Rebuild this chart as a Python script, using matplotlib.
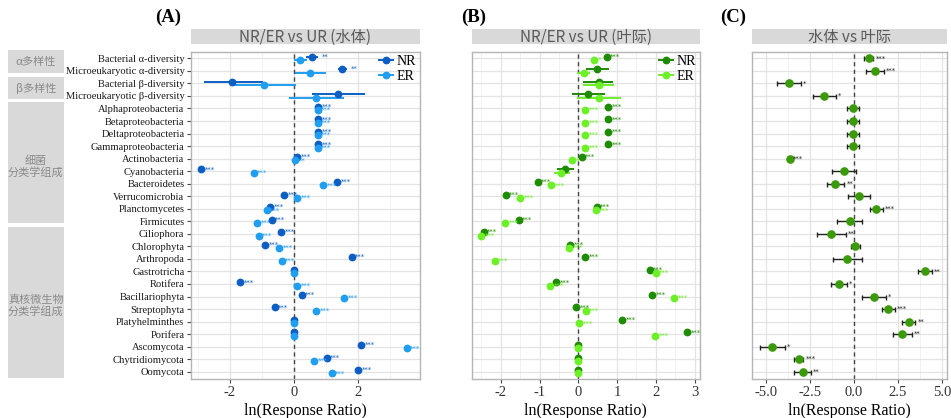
import numpy as np
import matplotlib.pyplot as plt
from matplotlib.patches import Rectangle
from matplotlib.lines import Line2D
from matplotlib.ticker import MultipleLocator

plt.rcParams['font.family'] = ['Liberation Serif', 'Noto Sans CJK SC', 'DejaVu Sans']
plt.rcParams['axes.unicode_minus'] = False

# ---- data ----
taxa = ["Bacterial α-diversity", "Microeukaryotic α-diversity", "Bacterial β-diversity",
        "Microeukaryotic β-diversity", "Alphaproteobacteria", "Betaproteobacteria",
        "Deltaproteobacteria", "Gammaproteobacteria", "Actinobacteria", "Cyanobacteria",
        "Bacteroidetes", "Verrucomicrobia", "Planctomycetes", "Firmicutes", "Ciliophora",
        "Chlorophyta", "Arthropoda", "Gastrotricha", "Rotifera", "Bacillariophyta",
        "Streptophyta", "Platyhelminthes", "Porifera", "Ascomycota", "Chytridiomycota",
        "Oomycota"]
group_labels = ["α多样性", "β多样性", "细菌\n分类学组成", "真核微生物\n分类学组成"]

nan = np.nan
# (A) NR/ER vs UR (water)
a_nr = [0.57, 1.52, -1.92, 1.39, 0.77, 0.77, 0.77, 0.77, 0.11, -2.89, 1.36, -0.30, -0.73,
        -0.69, -0.39, -0.89, 1.81, 0.0, -1.68, 0.25, -0.60, 0.0, 0.0, 2.10, 1.03, 2.01]
a_nr_lo = [0.37, 1.37, -2.80, 0.56] + [nan] * 22
a_nr_hi = [0.76, 1.67, -0.95, 2.23] + [nan] * 22
a_nr_sig = ["**", "**", "", ""] + ["***"] * 13 + [""] + ["***"] * 3 + ["", ""] + ["***"] * 3
a_er = [0.20, 0.52, -0.94, 0.70, 0.75, 0.75, 0.75, 0.75, 0.04, -1.25, 0.92, 0.10, -0.85,
        -1.14, -1.10, -0.45, -0.38, 0.0, 0.11, 1.57, 0.69, 0.0, 0.0, 3.53, 0.63, 1.18]
a_er_lo = [0.0, 0.03, -1.93, -0.16] + [nan] * 22
a_er_hi = [0.40, 1.00, 0.07, 1.58] + [nan] * 22
a_er_sig = ["", "", "", ""] + ["***"] * 4 + ["**"] + ["***"] * 8 + [""] + ["***"] * 3 + ["", ""] + ["***"] * 3

# (B) NR/ER vs UR (phyllosphere)
b_nr = [0.73, 0.48, 0.53, 0.26, 0.77, 0.77, 0.77, 0.77, 0.09, -0.34, -1.05, -1.87, 0.47,
        -1.54, -2.44, -0.21, 0.17, 1.84, -0.57, 1.90, -0.05, 1.13, 2.81, 0.0, 0.0, 0.0]
b_nr_lo = [nan, 0.19, 0.13, -0.16] + [nan] * 5 + [-0.56] + [nan] * 16
b_nr_hi = [nan, 0.80, 0.90, 0.68] + [nan] * 5 + [-0.11] + [nan] * 16
b_nr_sig = ["***", "", "", ""] + ["***"] * 5 + [""] + ["***"] * 13 + ["", "", ""]
b_er = [0.41, 0.15, 0.53, 0.54, 0.18, 0.18, 0.18, 0.18, -0.16, -0.44, -0.70, -1.50, 0.45,
        -1.89, -2.50, -0.23, -2.16, 2.00, -0.73, 2.48, 0.19, 0.03, 1.98, 0.0, 0.0, 0.0]
b_er_lo = [nan, -0.03, 0.13, -0.03] + [nan] * 5 + [-0.62] + [nan] * 16
b_er_hi = [nan, 0.30, 0.93, 1.10] + [nan] * 5 + [-0.22] + [nan] * 16
b_er_sig = ["*", "", "", ""] + ["***"] * 4 + ["*", ""] + ["***"] * 13 + ["", "", ""]

# (C) water vs phyllosphere
c_val = [0.84, 1.18, -3.68, -1.68, -0.05, -0.05, -0.05, -0.05, -3.60, -0.54, -1.05, 0.29,
         1.27, -0.24, -1.30, 0.08, -0.39, 4.01, -0.86, 1.14, 1.95, 3.11, 2.73, -4.65, -3.13, -2.90]
c_lo = [0.55, 0.67, -4.35, -2.30, -0.41, -0.41, -0.41, -0.41, nan, -1.23, -1.53, -0.32,
        0.91, -0.96, -2.11, -0.18, -1.19, 3.62, -1.32, 0.44, 1.58, 2.71, 2.22, -5.33, -3.40, -3.40]
c_hi = [1.10, 1.71, -3.02, -1.03, 0.27, 0.27, 0.27, 0.27, nan, 0.12, -0.54, 0.91,
        1.63, 0.46, -0.47, 0.35, 0.44, 4.41, -0.41, 1.82, 2.31, 3.48, 3.28, -3.91, -2.87, -2.43]
c_sig = ["***", "***", "*", "*", "", "", "", "", "***", "", "**", "", "***", "", "**", "",
         "", "**", "*", "*", "***", "**", "**", "*", "***", "**"]

# ---- layout (pixels) ----
W, H = 951, 418
fig = plt.figure(figsize=(W / 100, H / 100), dpi=100)
top_px, bot_px = 51.7, 379.0


def px_axes(x0, x1, y0, y1):
    return fig.add_axes([x0 / W, 1 - y1 / H, (x1 - x0) / W, (y1 - y0) / H])


rows = np.arange(1, len(taxa) + 1)
grid_major = "#e3e3e3"
grid_minor = "#f0f0f0"


def setup(ax, xlim, major, minor):
    ax.set_xlim(*xlim)
    ax.set_ylim(len(taxa) + 0.58, 0.47)
    ax.xaxis.set_major_locator(MultipleLocator(major))
    ax.xaxis.set_minor_locator(MultipleLocator(minor))
    ax.set_yticks(rows)
    ax.grid(True, which="major", axis="both", color=grid_major, lw=0.9, zorder=0)
    ax.grid(True, which="minor", axis="x", color=grid_minor, lw=0.6, zorder=0)
    ax.set_axisbelow(True)
    for s in ax.spines.values():
        s.set_color("#b5b5b5")
        s.set_linewidth(1.0)
    ax.tick_params(axis="x", which="major", length=3, color="#444444", labelsize=10.5,
                   labelcolor="#333333", pad=2)
    ax.tick_params(axis="x", which="minor", length=0)
    ax.axvline(0, color="#444444", lw=1.0, ls=(0, (3, 2.5)), zorder=1)
    ax.set_xlabel("ln(Response Ratio)", fontsize=11.5, labelpad=3)


def strip(x0, x1, text):
    s = px_axes(x0, x1, 29.3, 44.3)
    s.set_facecolor("#d9d9d9")
    for sp in s.spines.values():
        sp.set_visible(False)
    s.set_xticks([])
    s.set_yticks([])
    s.text(0.5, 0.45, text, ha="center", va="center", fontsize=11, color="#5a5a5a",
           family=["Noto Sans CJK SC", "DejaVu Sans"], transform=s.transAxes)


def dodged(ax, vals, lo, hi, sig, color, dy):
    y = rows + dy
    vals = np.array(vals)
    lo = np.array(lo)
    hi = np.array(hi)
    ok = ~np.isnan(lo)
    ax.hlines(y[ok], lo[ok], hi[ok], color=color, lw=1.4, zorder=2)
    ax.plot(vals, y, "o", color=color, ms=4.6, zorder=3)
    for yi, v, h, s in zip(y, vals, hi, sig):
        if s:
            xr = v if np.isnan(h) else h
            ax.annotate(s, (xr, yi), xytext=(2.5, 0), textcoords="offset points",
                        fontsize=5, color=color, ha="left", va="center",
                        family="DejaVu Sans", zorder=4)


def legend(ax, c_nr, c_er):
    handles = [Line2D([], [], color=c, marker="o", ms=4.6, lw=1.4) for c in (c_nr, c_er)]
    ax.legend(handles, ["NR", "ER"], loc="upper right", frameon=False, fontsize=10,
              handlelength=1.0, handletextpad=0.3, borderaxespad=0.05,
              labelspacing=0.1, borderpad=0.2)


# panel A
axA = px_axes(190.7, 420.0, top_px, bot_px)
setup(axA, (-3.22, 3.94), 2, 1)
axA.set_yticklabels(taxa, fontsize=7.6, color="#1a1a1a")
axA.tick_params(axis="y", length=3, color="#444444", pad=1.5)
dodged(axA, a_nr, a_nr_lo, a_nr_hi, a_nr_sig, "#0d5ec4", -0.135)
dodged(axA, a_er, a_er_lo, a_er_hi, a_er_sig, "#1f9ef2", 0.135)
legend(axA, "#0d5ec4", "#1f9ef2")
strip(190.7, 420.0, "NR/ER vs UR (水体)")

# panel B
axB = px_axes(471.7, 700.0, top_px, bot_px)
setup(axB, (-2.75, 3.14), 1, 0.5)
axB.set_yticklabels([])
axB.tick_params(axis="y", length=0)
dodged(axB, b_nr, b_nr_lo, b_nr_hi, b_nr_sig, "#1e8c00", -0.135)
dodged(axB, b_er, b_er_lo, b_er_hi, b_er_sig, "#6cf026", 0.135)
legend(axB, "#1e8c00", "#6cf026")
strip(471.7, 700.0, "NR/ER vs UR (叶际)")

# panel C
axC = px_axes(751.7, 947.0, top_px, bot_px)
setup(axC, (-5.8, 5.28), 2.5, 1.25)
axC.xaxis.set_major_formatter(plt.FuncFormatter(lambda v, p: f"{v:.1f}"))
axC.set_yticklabels([])
axC.tick_params(axis="y", length=0)
c_arr = np.array(c_val)
c_lo_a = np.array(c_lo)
c_hi_a = np.array(c_hi)
ok = ~np.isnan(c_lo_a)
axC.errorbar(c_arr[ok], rows[ok], xerr=[c_arr[ok] - c_lo_a[ok], c_hi_a[ok] - c_arr[ok]],
             fmt="none", ecolor="#222222", elinewidth=1.0, capsize=1.8, capthick=1.0,
             zorder=2)
axC.plot(c_arr, rows, "o", color="#3a9a0a", ms=5.2, zorder=3)
for yi, v, h, s in zip(rows, c_arr, c_hi_a, c_sig):
    if s:
        xr = v if np.isnan(h) else h
        axC.annotate(s, (xr, yi), xytext=(1.5, 0), textcoords="offset points",
                     fontsize=5, color="#222222", ha="left", va="center",
                     family="DejaVu Sans", zorder=4)
strip(751.7, 947.0, "水体 vs 叶际")

# left group strips
axG = px_axes(8, 63.5, 49, 380)
axG.set_xlim(0, 1)
axG.set_ylim(380, 49)
axG.axis("off")
boxes = [(50.0, 73.3), (77.3, 99.0), (102.3, 223.3), (227.3, 378.3)]
shift = [0, 0, 4, 3]
for (y0, y1), lab, sh in zip(boxes, group_labels, shift):
    axG.add_patch(Rectangle((0, y0), 1, y1 - y0, facecolor="#d9d9d9", edgecolor="none"))
    axG.text(0.5, (y0 + y1) / 2 + sh, lab, ha="center", va="center", fontsize=8,
             color="#8a8a8a", family=["Noto Sans CJK SC", "DejaVu Sans"], linespacing=1.05)

# panel letters
for x, t in [(168, "(A)"), (474, "(B)"), (733, "(C)")]:
    fig.text(x / W, 1 - 17 / H, t, ha="center", va="center", fontsize=13.5,
             fontweight="bold", family="Liberation Serif")

fig.savefig("out.png", dpi=100)
